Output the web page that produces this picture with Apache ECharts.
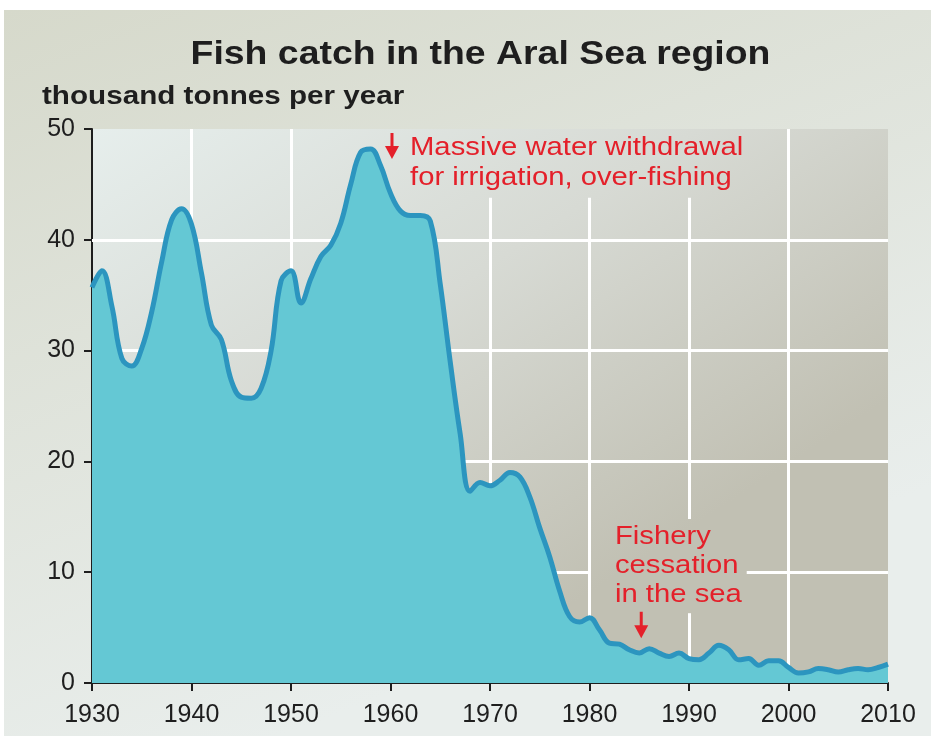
<!DOCTYPE html>
<html><head><meta charset="utf-8">
<script src="https://cdn.jsdelivr.net/npm/echarts@6/dist/echarts.min.js"></script>
<style>html,body{margin:0;padding:0;background:#fff}#c{width:931px;height:740px}</style>
</head><body><div id="c"></div>
<script>
const years = [1930,1931,1932,1933,1934,1935,1936,1937,1938,1939,
  1940,1941,1942,1943,1944,1945,1946,1947,1948,1949,
  1950,1951,1952,1953,1954,1955,1956,1957,1958,1959,
  1960,1961,1962,1963,1964,1965,1966,1967,1968,1969,
  1970,1971,1972,1973,1974,1975,1976,1977,1978,1979,
  1980,1981,1982,1983,1984,1985,1986,1987,1988,1989,
  1990,1991,1992,1993,1994,1995,1996,1997,1998,1999,
  2000,2001,2002,2003,2004,2005,2006,2007,2008,2009,2010];
const catchValues = [35.7,37.2,34.0,29.3,28.6,30.2,33.5,38.0,41.8,42.8,
  41.4,37.0,32.3,31.0,27.3,25.8,25.7,26.6,30.0,36.3,
  37.2,34.3,36.5,38.5,39.5,41.5,45.0,47.9,48.2,46.7,
  44.2,42.6,42.2,42.2,41.7,36.0,29.0,22.5,17.3,18.1,
  17.8,18.3,19.0,18.6,16.8,14.0,11.4,8.3,6.0,5.5,
  5.9,4.8,3.6,3.5,3.0,2.7,3.1,2.7,2.4,2.7,
  2.2,2.1,2.7,3.4,3.0,2.1,2.2,1.6,2.0,2.0,
  1.4,0.9,1.0,1.3,1.2,1.0,1.2,1.3,1.2,1.4,1.7];
const xTickLabels = [1930,1940,1950,1960,1970,1980,1990,2000,2010];
const yTickLabels = [0,10,20,30,40,50];
// visible white grid-line pieces (interrupted behind the notes): [x1, y1, x2, y2] in data units
const gridPieces = [
  [1940, 0, 1940, 50], [1950, 0, 1950, 50], [1960, 0, 1960, 44],
  [1970, 0, 1970, 43.8], [1980, 0, 1980, 43.8],
  [1990, 0, 1990, 6.3], [1990, 14.8, 1990, 43.8], [2000, 0, 2000, 50],
  [1930, 10, 1980, 10], [1995.8, 10, 2010, 10],
  [1930, 20, 2010, 20], [1930, 30, 2010, 30], [1930, 40, 2010, 40]
];
const titleText = 'Fish catch in the Aral Sea region';
const unitText = 'thousand tonnes per year';
const note1Lines = ['Massive water withdrawal', 'for irrigation, over-fishing'];
const note1Anchor = [1961.96, 49.64];  // text top-left (year, value)
const arrow1 = [1960.15, 49.64, 47.3]; // year, from, to
const note2Lines = ['Fishery', 'cessation', 'in the sea'];
const note2Anchor = [1982.56, 14.49];
const arrow2 = [1985.2, 6.43, 4.03];

const FONT = '"Liberation Sans", Arial, sans-serif';
const INK = '#1e1e1e', RED = '#e4202a';
const chart = echarts.init(document.getElementById('c'), null, {renderer: 'canvas'});
const seriesData = years.map((y, i) => [y, catchValues[i]]);

chart.setOption({
  animation: false,
  grid: {
    left: 92, right: 43, top: 129, bottom: 57, show: true, borderWidth: 0,
    backgroundColor: new echarts.graphic.LinearGradient(0, 0, 0.45, 1, [
      {offset: 0, color: '#e6eeec'}, {offset: 0.5, color: '#d7dad4'}, {offset: 1, color: '#c1c0b3'}
    ])
  },
  xAxis: {
    type: 'value', min: 1930, max: 2010, interval: 10,
    axisLine: {show: true, onZero: false, lineStyle: {color: INK, width: 2}},
    axisTick: {show: true, length: 8, lineStyle: {color: INK, width: 2}},
    axisLabel: {fontFamily: FONT, fontSize: 25, color: INK, margin: 20,
      formatter: v => xTickLabels.includes(v) ? String(v) : ''},
    splitLine: {show: false}
  },
  yAxis: {
    type: 'value', min: 0, max: 50, interval: 10,
    axisLine: {show: true, lineStyle: {color: INK, width: 2}},
    axisTick: {show: true, length: 8, lineStyle: {color: INK, width: 2}},
    axisLabel: {fontFamily: FONT, fontSize: 25, color: INK, margin: 17,
      formatter: v => yTickLabels.includes(v) ? String(v) : ''},
    splitLine: {show: false}
  },
  series: [
    {
      type: 'line', data: [], z: 1, silent: true,
      markLine: {
        silent: true, symbol: 'none', z: 1, animation: false,
        label: {show: false},
        lineStyle: {color: '#ffffff', width: 3, type: 'solid'},
        emphasis: {disabled: true},
        data: gridPieces.map(g => [{coord: [g[0], g[1]]}, {coord: [g[2], g[3]]}])
      }
    },
    {
      type: 'line', data: seriesData, smooth: 0.4, showSymbol: false, z: 3,
      lineStyle: {color: '#2c95bf', width: 5},
      areaStyle: {color: '#64c8d4', opacity: 1}
    }
  ]
});

function px(p) { return chart.convertToPixel({gridIndex: 0}, p); }
function arrowGroup(a) {
  const top = px([a[0], a[1]]), bot = px([a[0], a[2]]);
  return [
    {type: 'line', z: 10, shape: {x1: top[0], y1: top[1], x2: bot[0], y2: bot[1] - 10}, style: {stroke: RED, lineWidth: 3}},
    {type: 'polygon', z: 10, shape: {points: [[bot[0] - 7, bot[1] - 13], [bot[0] + 7, bot[1] - 13], [bot[0], bot[1]]]}, style: {fill: RED}}
  ];
}
const n1 = px(note1Anchor), n2 = px(note2Anchor);
chart.setOption({
  graphic: [
    {type: 'rect', z: -100, silent: true, shape: {x: 4, y: 10, width: 927, height: 726},
      style: {fill: new echarts.graphic.LinearGradient(0, 0, 0.3, 1, [
        {offset: 0, color: '#d6d9cb'}, {offset: 1, color: '#e9eeec'}])}},
    {type: 'text', z: 10, x: 480.5, y: 55, scaleX: 1.1, style: {text: titleText, fill: INK,
      font: 'bold 34px ' + FONT, textAlign: 'center', textVerticalAlign: 'middle'}},
    {type: 'text', z: 10, x: 42, y: 97, scaleX: 1.14, style: {text: unitText, fill: INK,
      font: 'bold 26px ' + FONT, textAlign: 'left', textVerticalAlign: 'middle'}},
    {type: 'text', z: 10, x: n1[0], y: n1[1], scaleX: 1.17, style: {text: note1Lines.join('\n'), fill: RED,
      font: '25px ' + FONT, lineHeight: 30, textVerticalAlign: 'top'}},
    {type: 'text', z: 10, x: n2[0], y: n2[1], scaleX: 1.17, style: {text: note2Lines.join('\n'), fill: RED,
      font: '25px ' + FONT, lineHeight: 29, textVerticalAlign: 'top'}},
    ...arrowGroup(arrow1),
    ...arrowGroup(arrow2)
  ]
});
</script>
</body></html>
